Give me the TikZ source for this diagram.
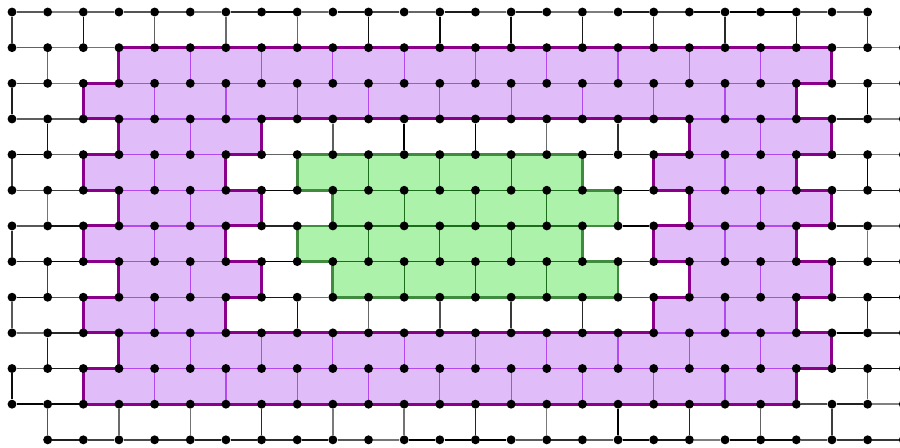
\documentclass[tikz,border=0pt]{standalone}
\usepackage{xcolor}
\usepackage{tikz}
\usetikzlibrary{backgrounds}

\definecolor{lilac}{HTML}{E0BCF8}
\definecolor{lilacedge}{HTML}{B04AF0}
\definecolor{lilacrim}{HTML}{8B008B}
\definecolor{mint}{HTML}{ADF2AA}
\definecolor{mintedge}{HTML}{1A6E1A}
\definecolor{mintrim}{HTML}{3F8C3F}

\begin{document}
\begin{tikzpicture}[
  site/.style={circle, fill=black, inner sep=0pt, minimum size=2.5mm},
  bond/.style={line width=1.1pt},
  ringcell/.style={fill=lilac, draw=lilacedge, line width=1pt},
  corecell/.style={fill=mint, draw=mintedge, line width=1pt},
  ringrim/.style={draw=lilacrim, line width=2.4pt},
  corerim/.style={draw=mintrim, line width=2.2pt}]
\useasboundingbox (-0.337,0.337) rectangle (24.908,-12.202);
% sites of the brick lattice
\foreach \j in {0,...,12} {
  \pgfmathtruncatemacro\first{\j==12 ? 1 : 0}
  \pgfmathtruncatemacro\last{\j==0 ? 24 : 25}
  \foreach \i in {\first,...,\last}
    \node[site] (s-\i-\j) at (\i,-\j) {};
}
\begin{pgfonlayer}{background}
\pgfmathsetseed{11}
% horizontal bonds
\foreach \j in {0,...,12} {
  \pgfmathtruncatemacro\first{\j==12 ? 1 : 0}
  \pgfmathtruncatemacro\last{\j==0 ? 23 : 24}
  \foreach \i in {\first,...,\last} {
    \pgfmathtruncatemacro\k{\i+1}
    \pgfmathrandominteger{\g}{50}{100}
    \draw[bond, black!\g] (s-\i-\j) -- (s-\k-\j);
  }
}
% vertical bonds
\foreach \j in {0,...,11} {
  \pgfmathtruncatemacro\p{mod(\j,2)}
  \pgfmathtruncatemacro\q{\p+2}
  \pgfmathtruncatemacro\r{\p+24}
  \pgfmathtruncatemacro\n{\j+1}
  \foreach \i in {\p,\q,...,\r} {
    \pgfmathrandominteger{\g}{50}{100}
    \draw[bond, black!\g] (s-\i-\j) -- (s-\i-\n);
  }
}
% violet ring
\foreach \j/\cs in {1/{3,5,...,21}, 2/{2,4,...,20}, 3/{3,5,19,21}, 4/{2,4,18,20},
    5/{3,5,19,21}, 6/{2,4,18,20}, 7/{3,5,19,21}, 8/{2,4,18,20},
    9/{3,5,...,21}, 10/{2,4,...,20}}
  \foreach \c in \cs
    \path[ringcell] (\c,-\j) rectangle ++(2,-1);
\draw[ringrim] (3,-1) -- (23,-1) -- (23,-2) -- (22,-2) -- (22,-3) -- (23,-3) -- (23,-4)
  -- (22,-4) -- (22,-5) -- (23,-5) -- (23,-6) -- (22,-6) -- (22,-7) -- (23,-7) -- (23,-8)
  -- (22,-8) -- (22,-9) -- (23,-9) -- (23,-10) -- (22,-10) -- (22,-11) -- (2,-11)
  -- (2,-10) -- (3,-10) -- (3,-9) -- (2,-9) -- (2,-8) -- (3,-8) -- (3,-7) -- (2,-7)
  -- (2,-6) -- (3,-6) -- (3,-5) -- (2,-5) -- (2,-4) -- (3,-4) -- (3,-3) -- (2,-3)
  -- (2,-2) -- (3,-2) -- cycle
  (7,-3) -- (19,-3) -- (19,-4) -- (18,-4) -- (18,-5) -- (19,-5) -- (19,-6) -- (18,-6)
  -- (18,-7) -- (19,-7) -- (19,-8) -- (18,-8) -- (18,-9) -- (6,-9) -- (6,-8) -- (7,-8)
  -- (7,-7) -- (6,-7) -- (6,-6) -- (7,-6) -- (7,-5) -- (6,-5) -- (6,-4) -- (7,-4) -- cycle;
% green core
\foreach \j/\cs in {4/{8,10,12,14}, 5/{9,11,13,15}, 6/{8,10,12,14}, 7/{9,11,13,15}}
  \foreach \c in \cs
    \path[corecell] (\c,-\j) rectangle ++(2,-1);
\draw[corerim] (8,-4) -- (16,-4) -- (16,-5) -- (17,-5) -- (17,-6) -- (16,-6) -- (16,-7)
  -- (17,-7) -- (17,-8) -- (9,-8) -- (9,-7) -- (8,-7) -- (8,-6) -- (9,-6) -- (9,-5)
  -- (8,-5) -- cycle;
\end{pgfonlayer}
\end{tikzpicture}
\end{document}
